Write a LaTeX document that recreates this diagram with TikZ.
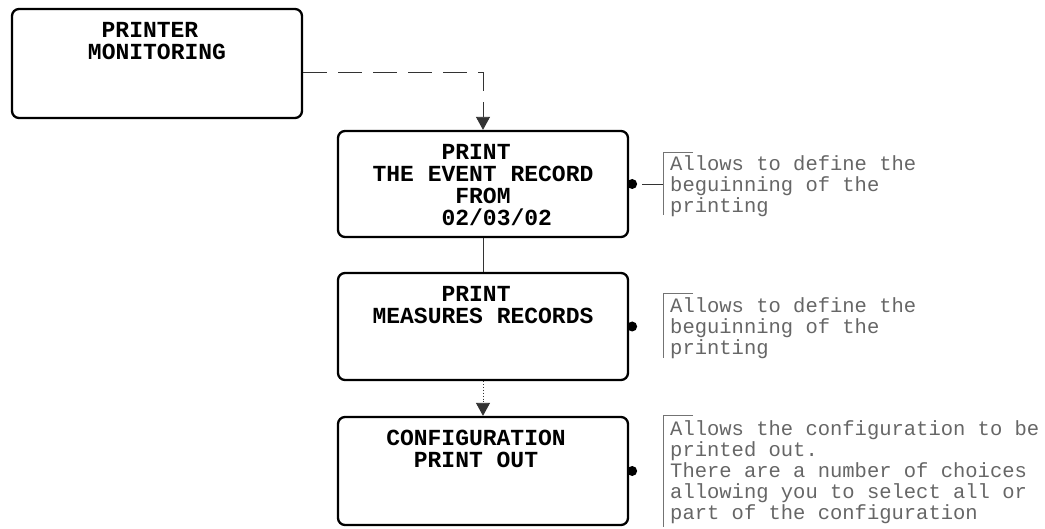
\documentclass[tikz,border=0pt]{standalone}
\usepackage{fontspec}
\usetikzlibrary{arrows.meta}
\newfontfamily\boxfont{Liberation Mono}
\newfontfamily\notefont{Liberation Mono}

\begin{document}
\begin{tikzpicture}[x=1pt, y=-1pt,
  box/.style={draw, line width=2.3pt, rounded corners=7pt,
    minimum width=290pt, inner sep=0pt},
  boxtext/.style={font=\boxfont\bfseries\fontsize{23}{22}\selectfont,
    align=center, anchor=north, inner sep=0pt},
  note/.style={font=\notefont\fontsize{20.5}{21}\selectfont, text=black!60,
    align=left, anchor=north west, inner sep=0pt},
  link/.style={line width=0.9pt, draw=black!80},
  tip/.style={-{Triangle[width=14pt,length=13pt]}},
  knob/.style={circle, fill=black, inner sep=0pt, minimum size=10pt},
  bracket/.style={line width=0.7pt, draw=black!55}]
\useasboundingbox (0,0) rectangle (1045,529);

% menu boxes
\node[box, minimum height=109pt] (b1) at (157,63.5) {};
\node[box, minimum height=106pt] (b2) at (483,184) {};
\node[box, minimum height=107pt] (b3) at (483,326.5) {};
\node[box, minimum height=108pt] (b4) at (483,471) {};

% box captions
\node[boxtext] (t1) at ([yshift=-14.5pt]b1.north)
  {PRINTER\hspace*{14pt}\\MONITORING};
\node[boxtext] (t2) at ([yshift=-14.5pt]b2.north)
  {PRINT\hspace*{13.8pt}\\THE EVENT RECORD\\FROM\\\hspace*{27.6pt}02/03/02};
\node[boxtext] (t3) at ([yshift=-14.5pt]b3.north)
  {PRINT\hspace*{13.8pt}\\MEASURES RECORDS};
\node[boxtext, xshift=-7pt] (t4) at ([yshift=-14.5pt]b4.north)
  {CONFIGURATION\\PRINT OUT};

% flow between the boxes
\draw[link, dash pattern=on 24pt off 11pt, tip]
  ([yshift=-8.5pt]b1.east) -| (b2.north);
\draw[link, line width=0.8pt] (b2.south) -- (b3.north);
\draw[link, dotted, tip] (b3.south) -- (b4.north);

% side knobs
\node[knob] (k2) at ([xshift=3pt]b2.east) {};
\node[knob] (k3) at ([xshift=3pt]b3.east) {};
\node[knob] (k4) at ([xshift=3pt]b4.east) {};

% comment brackets
\coordinate (r1) at (663,152);
\coordinate (r2) at (663,293);
\coordinate (r3) at (663,415);
\draw[bracket] ([xshift=30pt]r1) -- (r1) -- ++(0,63);
\draw[bracket] ([xshift=30pt]r2) -- (r2) -- ++(0,65);
\draw[bracket] ([xshift=30pt]r3) -- (r3) -- ++(0,112);
\draw[link, shorten <=10pt] (k2.center) -- (k2.center -| r1);

% comments
\node[note] (n1) at (670,155)
  {Allows to define the\\beguinning of the\\printing};
\node[note] (n2) at (670,297)
  {Allows to define the\\beguinning of the\\printing};
\node[note] (n3) at (670,420)
  {Allows the configuration to be\\printed out.\\There are a number of choices\\allowing you to select all or\\part of the configuration};
\end{tikzpicture}
\end{document}
